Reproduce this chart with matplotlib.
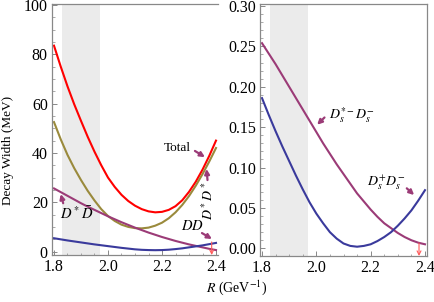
import numpy as np
import matplotlib.pyplot as plt
from matplotlib.ticker import MultipleLocator

plt.rcParams['font.family'] = ['Liberation Serif', 'DejaVu Serif']
plt.rcParams['mathtext.fontset'] = 'stix'

# R grid (GeV^-1) and widths
R = [1.800, 1.825, 1.850, 1.875, 1.900, 1.925, 1.950, 1.975, 2.000, 2.025, 2.050, 2.075,
     2.100, 2.125, 2.150, 2.175, 2.200, 2.225, 2.250, 2.275, 2.300, 2.325, 2.350, 2.375, 2.400]

# left panel (MeV)
total = [83.5, 75.0, 67.0, 59.7, 53.0, 46.5, 40.5, 35.0, 30.0, 26.2, 23.0, 20.5,
         18.6, 17.2, 16.3, 15.9, 16.1, 16.9, 18.4, 20.8, 24.2, 28.3, 33.2, 38.8, 45.0]
dstar_dstar = [52.5, 45.5, 39.2, 33.8, 29.0, 24.6, 20.7, 17.2, 14.4, 12.4, 10.9, 10.0,
               9.5, 9.4, 9.7, 10.5, 11.7, 13.5, 15.9, 18.9, 22.5, 26.7, 31.4, 36.5, 42.0]
dstar_d = [25.6, 24.1, 22.6, 21.1, 19.6, 18.2, 16.9, 15.6, 14.3, 13.1, 11.9, 10.8,
           9.7, 8.7, 7.7, 6.8, 5.9, 5.1, 4.3, 3.6, 2.9, 2.3, 1.7, 1.1, 0.6]
d_d = [5.4, 4.95, 4.5, 4.1, 3.7, 3.3, 2.9, 2.55, 2.2, 1.85, 1.5, 1.2,
       0.9, 0.7, 0.6, 0.55, 0.6, 0.75, 1.0, 1.3, 1.7, 2.1, 2.5, 3.0, 3.5]

# right panel (MeV)
ds_star_ds = [0.254, 0.241, 0.228, 0.214, 0.200, 0.186, 0.172, 0.158, 0.144, 0.130, 0.117, 0.104,
              0.092, 0.080, 0.068, 0.058, 0.048, 0.039, 0.031, 0.025, 0.019, 0.014, 0.010, 0.007, 0.005]
ds_ds = [0.186, 0.165, 0.145, 0.126, 0.108, 0.090, 0.073, 0.057, 0.043, 0.031, 0.020, 0.012,
         0.006, 0.003, 0.002, 0.003, 0.005, 0.009, 0.014, 0.020, 0.028, 0.037, 0.047, 0.059, 0.072]

band = (1.83, 1.97)

c_red = '#ff0000'
c_olive = '#9a8a3c'
c_purple = '#9b3b77'
c_blue = '#3a3a9c'
c_frame = '#888888'

fig = plt.figure(figsize=(4.34, 3.02), dpi=100)
ax1 = fig.add_axes([52/434, 1-255/302, 166/434, 251/302])
ax2 = fig.add_axes([260/434, 1-256/302, 167/434, 252/302])


def style(ax):
    for s in ax.spines.values():
        s.set_color(c_frame)
        s.set_linewidth(0.9)
    ax.tick_params(which='both', direction='in', color=c_frame, labelsize=11.5,
                   pad=3, top=False, right=False)
    ax.tick_params(which='major', length=3.5, width=0.7)
    ax.tick_params(which='minor', length=1.8, width=0.5)
    ax.xaxis.set_major_locator(MultipleLocator(0.2))
    ax.xaxis.set_minor_locator(MultipleLocator(0.05))
    ax.set_xlim(1.7926, 2.4074)
    ax.axvspan(*band, color='#ebebeb', lw=0, zorder=0)


arrow_kw = dict(arrowstyle='-|>', color=c_purple, lw=1.6, mutation_scale=7,
                shrinkA=0, shrinkB=0)
red_kw = dict(arrowstyle='->', color='#ff5a5a', lw=0.8, mutation_scale=7,
              shrinkA=0, shrinkB=0)

# left panel
style(ax1)
ax1.spines['right'].set_visible(False)
ax1.plot(R, total, color=c_red, lw=1.5)
ax1.plot(R, dstar_dstar, color=c_olive, lw=1.5)
ax1.plot(R, dstar_d, color=c_purple, lw=1.5)
ax1.plot(R, d_d, color=c_blue, lw=1.5)
ax1.set_ylim(-1.4, 100.4)
ax1.yaxis.set_major_locator(MultipleLocator(20))
ax1.yaxis.set_minor_locator(MultipleLocator(5))

ax1.text(2.2556, 42.0, 'Total', fontsize=9.5, ha='center', va='center')
ax1.annotate('', xy=(2.359, 38.3), xytext=(2.322, 40.8), arrowprops=arrow_kw)
ax1.text(2.372, 20.5, r'$D^*D^*$', fontsize=10, rotation=90, ha='center', va='center')
ax1.annotate('', xy=(2.365, 33.5), xytext=(2.3685, 29.0), arrowprops=arrow_kw)
ax1.text(2.311, 10.3, r'$DD$', fontsize=10.5, ha='center', va='center')
ax1.annotate('', xy=(2.385, 5.1), xytext=(2.348, 7.5), arrowprops=arrow_kw)
ax1.text(1.883, 15.2, r'$D^*\bar{D}$', fontsize=10.5, ha='center', va='center')
ax1.annotate('', xy=(1.825, 23.3), xytext=(1.834, 19.6), arrowprops=arrow_kw)
ax1.annotate('', xy=(2.384, -1.4), xytext=(2.384, 3.9), arrowprops=red_kw)

# right panel
style(ax2)
ax2.plot(R, ds_star_ds, color=c_purple, lw=1.5)
ax2.plot(R, ds_ds, color=c_blue, lw=1.5)
ax2.set_ylim(-0.0095, 0.3025)
ax2.yaxis.set_major_locator(MultipleLocator(0.05))
ax2.yaxis.set_minor_locator(MultipleLocator(0.01))
ax2.yaxis.set_major_formatter(plt.FormatStrFormatter('%.2f'))

ax2.text(2.130, 0.165, r'$D_s^{*-}D_s^{-}$', fontsize=10, ha='center', va='center')
ax2.annotate('', xy=(2.003, 0.153), xytext=(2.030, 0.162), arrowprops=arrow_kw)
ax2.text(2.259, 0.081, r'$D_s^{+}D_s^{-}$', fontsize=10, ha='center', va='center')
ax2.annotate('', xy=(2.360, 0.066), xytext=(2.333, 0.0743), arrowprops=arrow_kw)
ax2.annotate('', xy=(2.378, -0.0095), xytext=(2.378, 0.0066), arrowprops=red_kw)

fig.text(237/434, 1-288/302, r'$R$ (GeV$^{-1}$)', fontsize=10, ha='center', va='center')
fig.text(8/434, 1-150/302, 'Decay Width (MeV)', fontsize=9.5, rotation=90,
         ha='center', va='center')

fig.savefig('out.png', dpi=100)
